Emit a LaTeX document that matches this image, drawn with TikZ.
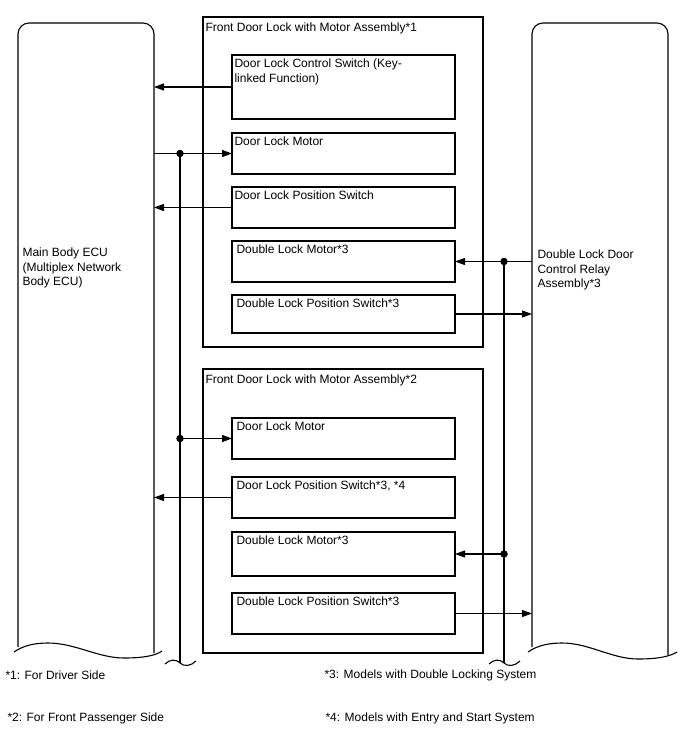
\documentclass[tikz,border=0pt]{standalone}
\usepackage{fontspec}
\setmainfont{Liberation Sans}
\usetikzlibrary{arrows.meta,calc}
\begin{document}
\begin{tikzpicture}[x=1pt,y=-1pt,
  line width=1.1pt,
  ibox/.style={draw, rectangle, anchor=north west, minimum width=223pt, inner sep=0pt, outer sep=0pt},
  obox/.style={draw, rectangle, anchor=north west, minimum width=280pt, inner sep=0pt, outer sep=0pt},
  hold/.style={draw=none, rectangle, anchor=north west, minimum width=136pt, minimum height=630pt, inner sep=0pt, outer sep=0pt},
  lbl/.style={anchor=north west, inner sep=0pt, align=left, font=\fontsize{12}{14.5}\selectfont},
  arr/.style={-{Triangle[length=10pt,width=7pt]}},
  jdot/.style={circle, fill, inner sep=0pt, minimum size=7.5pt}]
\useasboundingbox[fill=white] (0,0) rectangle (688,755);

% ECU (left)
\node[hold] (ecu) at (18,23) {};
\draw[rounded corners=11pt] (18,647) -- (18,23) -- (154,23) -- (154,653);
\draw (14,652) .. controls (24,645) and (36,643) .. (48,643) .. controls (75,643) and (98,658) .. (124,658) .. controls (142,658) and (155,656) .. (162,651);
\node[lbl] (ecut) at (22,247.5) {Main Body ECU\\(Multiplex Network\\Body ECU)};

% Relay (right)
\node[hold] (rb) at (532,23) {};
\draw[rounded corners=11pt] (532,647) -- (532,23) -- (668,23) -- (668,655);
\draw (528,652) .. controls (538,645) and (550,643) .. (562,643) .. controls (589,643) and (612,659) .. (638,659) .. controls (656,659) and (669,657) .. (677,652);
\node[lbl] (rbt) at (537,249.5) {Double Lock Door\\Control Relay\\Assembly*3};

% Outer boxes
\node[obox, minimum height=330pt] (o1) at (203,17) {};
\node[lbl] (o1t) at (205,22.5) {Front Door Lock with Motor Assembly*1};
\node[obox, minimum height=284pt] (o2) at (203,369) {};
\node[lbl] (o2t) at (205,374.5) {Front Door Lock with Motor Assembly*2};

% Inner boxes, assembly 1
\node[ibox, minimum height=64pt] (b1a) at (232,55) {};
\node[lbl] at ($(b1a.north west)+(2,3.5)$) {Door Lock Control Switch (Key-\\linked Function)};
\node[ibox, minimum height=41pt] (b1b) at (232,133) {};
\node[lbl] at ($(b1b.north west)+(2,3.5)$) {Door Lock Motor};
\node[ibox, minimum height=41pt] (b1c) at (232,187) {};
\node[lbl] at ($(b1c.north west)+(2,3.5)$) {Door Lock Position Switch};
\node[ibox, minimum height=41pt] (b1d) at (232,241) {};
\node[lbl] at ($(b1d.north west)+(4,3.5)$) {Double Lock Motor*3};
\node[ibox, minimum height=38pt] (b1e) at (232,295) {};
\node[lbl] at ($(b1e.north west)+(4,3.5)$) {Double Lock Position Switch*3};

% Inner boxes, assembly 2
\node[ibox, minimum height=41pt] (b2a) at (232,418) {};
\node[lbl] at ($(b2a.north west)+(4,3.5)$) {Door Lock Motor};
\node[ibox, minimum height=41pt] (b2b) at (232,477) {};
\node[lbl] at ($(b2b.north west)+(4,3.5)$) {Door Lock Position Switch*3, *4};
\node[ibox, minimum height=44pt] (b2c) at (232,532) {};
\node[lbl] at ($(b2c.north west)+(4,3.5)$) {Double Lock Motor*3};
\node[ibox, minimum height=41pt] (b2d) at (232,593) {};
\node[lbl] at ($(b2d.north west)+(4,3.5)$) {Double Lock Position Switch*3};

% bus columns
\coordinate (cl) at (180,0);
\coordinate (cr) at (504,0);
\coordinate (lb) at (180,663);
\coordinate (rbb) at (504,663);

% left side connectors
\draw[arr] (b1a.west) -- (b1a.west -| ecu.east);
\draw[arr] (ecu.east |- b1b.west) -- (b1b.west);
\draw[arr] (b1c.west) -- (b1c.west -| ecu.east);
\node[jdot] (d1) at (b1b.west -| cl) {};
\node[jdot] (d2) at (b2a.west -| cl) {};
\draw[arr] (d2.center) -- (b2a.west);
\draw[arr] (b2b.west) -- (b2b.west -| ecu.east);
\draw (d1.center) -- (lb);
\draw (165,664) .. controls (170,659) and (176,659) .. (lb) .. controls (184,667) and (191,666) .. (196,661);

% right side connectors
\draw[arr] (rb.west |- b1d.east) -- (b1d.east);
\draw[arr] (b1e.east) -- (b1e.east -| rb.west);
\node[jdot] (d3) at (b1d.east -| cr) {};
\node[jdot] (d4) at (b2c.east -| cr) {};
\draw[arr] (d4.center) -- (b2c.east);
\draw[arr] (b2d.east) -- (b2d.east -| rb.west);
\draw (d3.center) -- (rbb);
\draw (489,664) .. controls (494,659) and (500,659) .. (rbb) .. controls (508,667) and (515,666) .. (520,661);

% footnotes
\node[lbl] (f1) at (5,670.5) {*1: For Driver Side};
\node[lbl] (f2) at (7,712.5) {*2: For Front Passenger Side};
\node[lbl] (f3) at (324,669.5) {*3: Models with Double Locking System};
\node[lbl] (f4) at (325,712.5) {*4: Models with Entry and Start System};
\end{tikzpicture}
\end{document}
